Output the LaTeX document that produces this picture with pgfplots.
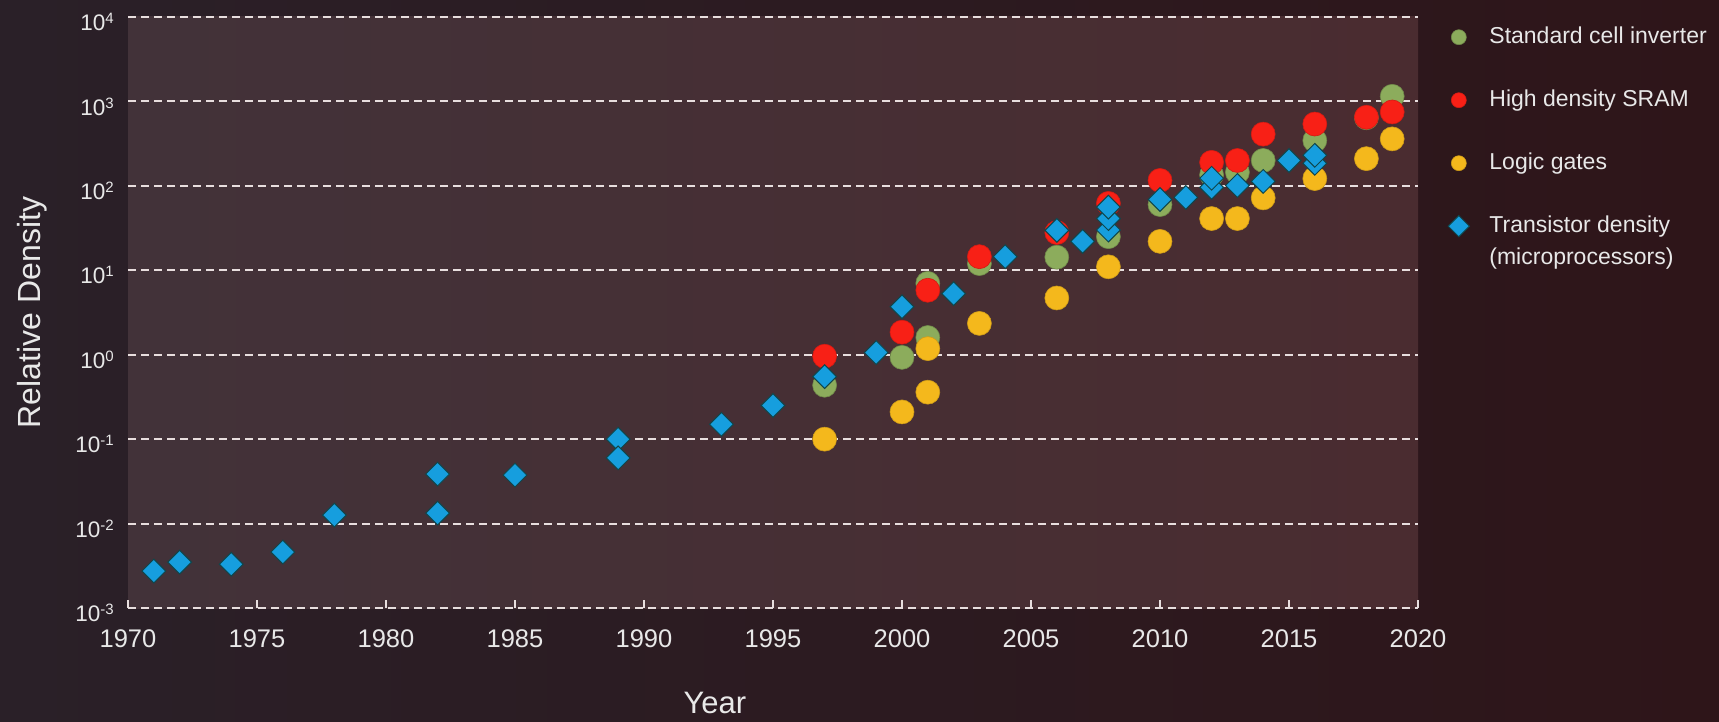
\documentclass[border=0pt]{standalone}
\usepackage{fontspec}
\setmainfont{Liberation Sans}
\usepackage{pgfplots}
\pgfplotsset{compat=1.18}

\definecolor{bgleft}{RGB}{42,32,40}
\definecolor{bgright}{RGB}{46,21,25}
\definecolor{panelleft}{RGB}{66,50,57}
\definecolor{panelright}{RGB}{74,44,48}
\definecolor{gridc}{RGB}{232,222,222}
\definecolor{txt}{RGB}{232,232,232}
\definecolor{cgreen}{RGB}{140,172,92}
\definecolor{cred}{RGB}{248,32,22}
\definecolor{cyellow}{RGB}{244,184,28}
\definecolor{cblue}{RGB}{22,158,222}

% superscript for the decade labels
\newcommand\ex[1]{\raisebox{7pt}{\fontsize{15}{15}\selectfont #1}}

\begin{document}
\begin{tikzpicture}
\useasboundingbox (0,0) rectangle (1719pt,721pt);
\shade[left color=bgleft, right color=bgright] (0,0) rectangle (1719pt,721pt);
\begin{axis}[
    at={(128pt,113pt)}, anchor=south west,
    scale only axis, width=1290pt, height=591pt,
    xmin=1970, xmax=2020,
    ymode=log, ymin=1e-3, ymax=1e4,
    axis background/.style={left color=panelleft, right color=panelright},
    axis line style={draw=none},
    ymajorgrids, yminorticks=false,
    major grid style={gridc, line width=2pt, dash pattern=on 8pt off 5pt},
    xtick={1970,1975,...,2020},
    xticklabels={1970,1975,1980,1985,1990,1995,2000,2005,2010,2015,2020},
    xtick pos=left, tick align=inside, major tick length=8pt,
    xtick style={gridc, line width=2pt},
    ytick={1e-3,1e-2,1e-1,1,1e1,1e2,1e3,1e4},
    yticklabels={10\ex{-3},10\ex{-2},10\ex{-1},10\ex{0},10\ex{1},10\ex{2},10\ex{3},10\ex{4}},
    ytick style={draw=none},
    xticklabel style={font=\fontsize{25.5}{26}\selectfont, text=txt, anchor=base, yshift=-39pt},
    yticklabel style={font=\fontsize{22.5}{23}\selectfont, text=txt, anchor=east, inner sep=0pt, xshift=-14pt, yshift=-5pt},
    xlabel={Year}, ylabel={Relative Density},
    xlabel style={font=\fontsize{31}{32}\selectfont, text=txt, at={(axis description cs:0.455,-0.179)}, anchor=base},
    ylabel style={font=\fontsize{32}{33}\selectfont, text=txt, at={(axis description cs:-0.0682,0.5)}, anchor=base},
    legend style={at={(1,1)}, anchor=north west, xshift=30pt, yshift=-9pt,
        draw=none, fill=none, inner sep=0pt, row sep=41pt, column sep=20pt,
        font=\fontsize{23}{27}\selectfont,
        nodes={inner sep=0pt, text=txt, font=\fontsize{23}{27}\selectfont,
               text height=17pt, text depth=5pt}},
    legend cell align=left,
    legend image code/.code={\draw[#1, mark size=7.5pt] plot coordinates {(0pt,0pt)};},
]
% Standard cell inverter
\addplot[only marks, mark=*, mark size=12pt,
    mark options={fill=cgreen, draw=cgreen!80!black, line width=0.6pt}] coordinates {
    (1997,0.435) (2000,0.93) (2001,1.6) (2001,7.0) (2003,12) (2006,14.3)
    (2008,25) (2010,60) (2012,135) (2013,145) (2014,200) (2016,345)
    (2018,640) (2019,1150)
};
\addlegendentry{Standard cell inverter}
% High density SRAM
\addplot[only marks, mark=*, mark size=12pt,
    mark options={fill=cred, draw=cred!85!black, line width=0.6pt}] coordinates {
    (1997,0.96) (2000,1.85) (2001,5.8) (2003,14.5) (2006,28) (2008,62)
    (2010,116) (2012,190) (2013,200) (2014,410) (2016,540) (2018,650)
    (2019,750)
};
\addlegendentry{High density SRAM}
% Logic gates
\addplot[only marks, mark=*, mark size=12pt,
    mark options={fill=cyellow, draw=cyellow!85!black, line width=0.6pt}] coordinates {
    (1997,0.1) (2000,0.21) (2001,0.36) (2001,1.18) (2003,2.35) (2006,4.7)
    (2008,11) (2010,22) (2012,41) (2013,41) (2014,72) (2016,122)
    (2018,210) (2019,360)
};
\addlegendentry{Logic gates}
% Transistor density (microprocessors)
\addplot[only marks, mark=square*, mark size=8.4pt,
    mark options={rotate=45, fill=cblue, draw={rgb,255:red,15;green,70;blue,75}, line width=1pt}] coordinates {
    (1971,0.00274) (1972,0.0035) (1974,0.0033) (1976,0.0046) (1978,0.0126)
    (1982,0.0386) (1982,0.0133) (1985,0.0375) (1989,0.1) (1989,0.06)
    (1993,0.15) (1995,0.25) (1997,0.55) (1999,1.06) (2000,3.7) (2002,5.3)
    (2004,14.5) (2006,29.7) (2007,22) (2008,30) (2008,41) (2008,56)
    (2010,69) (2011,73) (2012,96) (2012,123) (2013,101) (2014,113)
    (2015,200) (2016,185) (2016,230)
};
\addlegendentry{\makebox[0pt][l]{\raisebox{-32pt}[0pt][0pt]{(microprocessors)}}Transistor density}
\end{axis}
\end{tikzpicture}
\end{document}
